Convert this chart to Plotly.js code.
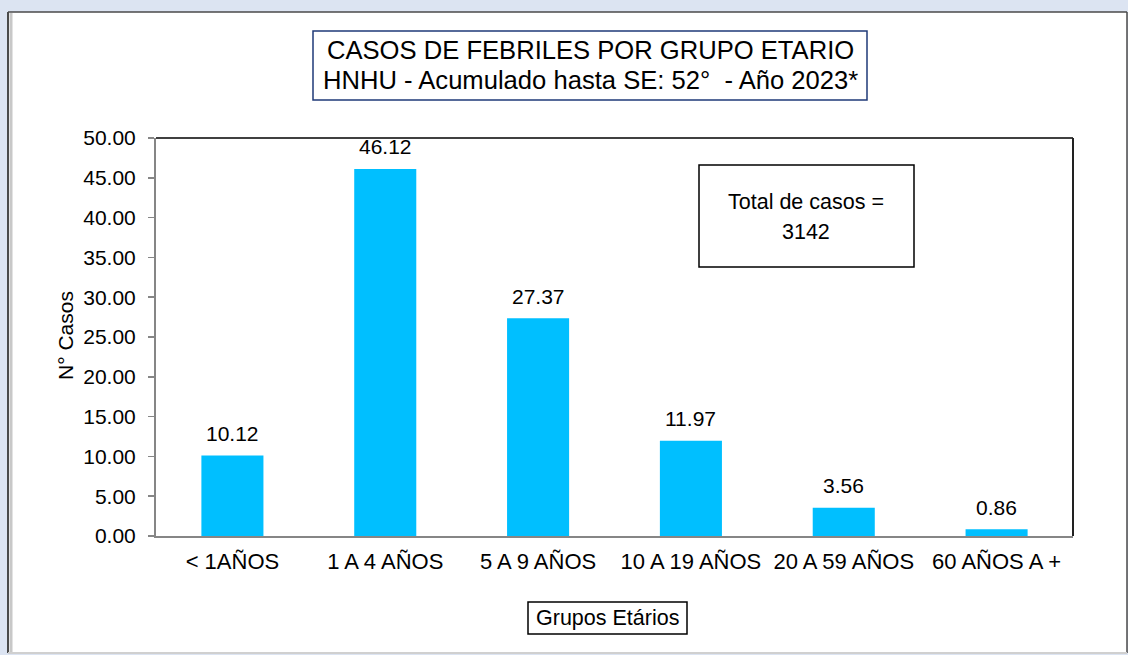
<!DOCTYPE html>
<html>
<head>
<meta charset="utf-8">
<script src="https://cdn.plot.ly/plotly-3.0.1.min.js"></script>
<style>
html,body{margin:0;padding:0;background:#dce4f2;}
#chart{width:1128px;height:655px;}
</style>
</head>
<body>
<div id="chart"></div>
<script>
// ---- data ----
const categories = ["< 1AÑOS", "1 A 4 AÑOS", "5 A 9 AÑOS", "10 A 19 AÑOS", "20 A 59 AÑOS", "60 AÑOS A +"];
const values = [10.12, 46.12, 27.37, 11.97, 3.56, 0.86];
const yTickVals = [0, 5, 10, 15, 20, 25, 30, 35, 40, 45, 50];
const titleLine1 = "CASOS DE FEBRILES POR GRUPO ETARIO";
const titleLine2 = "HNHU - Acumulado hasta SE: 52°  - Año 2023*";
const totalLine1 = "Total de casos =";
const totalLine2 = "3142";
const xTitle = "Grupos Etários";
const yTitle = "N° Casos";

// ---- layout helpers (pixel -> paper) ----
const W = 1128, H = 655;
const L = 156, R = 1073, T = 138, B = 536;
const PW = R - L, PH = B - T;
const px = v => (v - L) / PW;
const py = v => (B - v) / PH;

const FONT = '"Liberation Sans", Arial, sans-serif';

const trace = {
  type: 'bar',
  x: categories,
  y: values,
  marker: {color: '#00BFFF', line: {width: 0}},
  hoverinfo: 'x+y'
};

const annotations = [];
// data labels
categories.forEach((c, i) => {
  annotations.push({
    x: c, y: values[i], xref: 'x', yref: 'y',
    text: values[i].toFixed(2), showarrow: false,
    yanchor: 'middle', xanchor: 'center', yshift: 22,
    font: {family: FONT, size: 21, color: '#000'}
  });
});
// title lines
annotations.push({xref: 'paper', yref: 'paper', x: px(590), y: py(50), text: titleLine1,
  showarrow: false, xanchor: 'center', yanchor: 'middle', font: {family: FONT, size: 25.6, color: '#000'}});
annotations.push({xref: 'paper', yref: 'paper', x: px(590), y: py(80), text: titleLine2,
  showarrow: false, xanchor: 'center', yanchor: 'middle', font: {family: FONT, size: 25.6, color: '#000'}});
// total box text
annotations.push({xref: 'paper', yref: 'paper', x: px(806), y: py(202), text: totalLine1,
  showarrow: false, xanchor: 'center', yanchor: 'middle', font: {family: FONT, size: 21.5, color: '#000'}});
annotations.push({xref: 'paper', yref: 'paper', x: px(806), y: py(232), text: totalLine2,
  showarrow: false, xanchor: 'center', yanchor: 'middle', font: {family: FONT, size: 21.5, color: '#000'}});
// axis titles
annotations.push({xref: 'paper', yref: 'paper', x: px(607.5), y: py(618), text: xTitle,
  showarrow: false, xanchor: 'center', yanchor: 'middle', font: {family: FONT, size: 21.5, color: '#000'}});
annotations.push({xref: 'paper', yref: 'paper', x: px(65), y: py(336), text: yTitle, textangle: -90,
  showarrow: false, xanchor: 'center', yanchor: 'middle', font: {family: FONT, size: 21, color: '#000'}});

const shapes = [
  // white chart frame
  {type: 'rect', xref: 'paper', yref: 'paper', layer: 'below',
   x0: px(8), x1: px(1127), y0: py(12), y1: py(653),
   fillcolor: '#ffffff', line: {width: 0}},
  {type: 'line', xref: 'paper', yref: 'paper', layer: 'below',
   x0: px(8), x1: px(8), y0: py(12), y1: py(653), line: {color: '#4a4a4a', width: 2}},
  {type: 'line', xref: 'paper', yref: 'paper', layer: 'below',
   x0: px(11), x1: px(11), y0: py(13), y1: py(652), line: {color: '#c8c8c8', width: 3}},
  {type: 'line', xref: 'paper', yref: 'paper', layer: 'below',
   x0: px(8), x1: px(1127), y0: py(12), y1: py(12), line: {color: '#4a4a4a', width: 1.5}},
  {type: 'line', xref: 'paper', yref: 'paper', layer: 'below',
   x0: px(1127), x1: px(1127), y0: py(12), y1: py(653), line: {color: '#4a4a4a', width: 1.5}},
  {type: 'line', xref: 'paper', yref: 'paper', layer: 'below',
   x0: px(8), x1: px(1127), y0: py(653), y1: py(653), line: {color: '#d0d0d0', width: 2}},
  // plot-area top & right borders
  {type: 'line', xref: 'paper', yref: 'paper', x0: 0, x1: 1, y0: 1, y1: 1, line: {color: '#000', width: 1.5}},
  {type: 'line', xref: 'paper', yref: 'paper', x0: 1, x1: 1, y0: 0, y1: 1, line: {color: '#222', width: 2}},
  // title box
  {type: 'rect', xref: 'paper', yref: 'paper', x0: px(313), x1: px(867), y0: py(31), y1: py(100),
   line: {color: '#1f3a78', width: 1.5}, fillcolor: 'rgba(0,0,0,0)'},
  // total box
  {type: 'rect', xref: 'paper', yref: 'paper', x0: px(699), x1: px(914), y0: py(165), y1: py(267),
   line: {color: '#000', width: 1.5}, fillcolor: '#fff'},
  // x title box
  {type: 'rect', xref: 'paper', yref: 'paper', x0: px(528), x1: px(687), y0: py(602), y1: py(634),
   line: {color: '#000', width: 1.5}, fillcolor: '#fff'}
];

const layout = {
  width: W, height: H,
  margin: {l: L, r: W - R, t: T, b: H - B, pad: 0},
  paper_bgcolor: '#dce4f2',
  plot_bgcolor: 'rgba(0,0,0,0)',
  showlegend: false,
  bargap: 0.594,
  font: {family: FONT, size: 21, color: '#000'},
  xaxis: {
    type: 'category',
    showline: true, linecolor: '#868686', linewidth: 2,
    ticks: '', showgrid: false, zeroline: false,
    tickfont: {family: FONT, size: 22, color: '#000'},
    ticklabelstandoff: 5
  },
  yaxis: {
    range: [0, 50], tickvals: yTickVals, tickformat: '.2f',
    showline: true, linecolor: '#868686', linewidth: 2,
    ticks: 'outside', ticklen: 6, tickcolor: '#868686', tickwidth: 1.5,
    showgrid: false, zeroline: false,
    tickfont: {family: FONT, size: 21, color: '#000'},
    ticklabelstandoff: 8
  },
  shapes: shapes,
  annotations: annotations
};

Plotly.newPlot('chart', [trace], layout, {displayModeBar: false, staticPlot: true});
</script>
</body>
</html>
